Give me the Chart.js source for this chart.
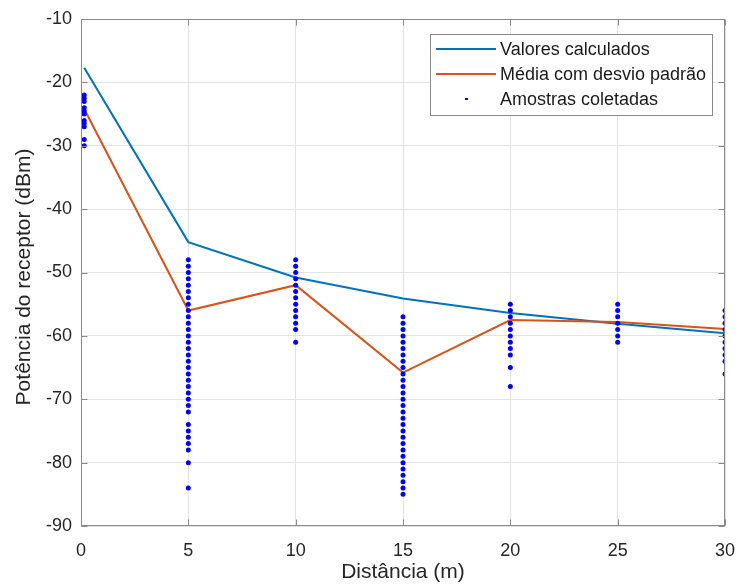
<!DOCTYPE html>
<html>
<head>
<meta charset="utf-8">
<script src="https://cdn.jsdelivr.net/npm/chart.js@4.4.0/dist/chart.umd.min.js"></script>
<style>
  html, body { margin: 0; padding: 0; background: #fff; }
  #wrap { position: relative; width: 737px; height: 587px; }
</style>
</head>
<body>
<div id="wrap"><canvas id="c" width="737" height="587"></canvas></div>
<script>
// ---- data ----
const distances = [0.15, 5, 10, 15, 20, 25, 30];
const calculated = [-17.7, -45.2, -50.8, -54.1, -56.4, -58.1, -59.6];
const meanValues = [-24.2, -56.0, -52.0, -65.8, -57.5, -57.8, -58.9];

const samplesAt0 = [-22, -22.5, -23, -24, -24.5, -25, -26, -26.5, -27, -29, -30];
const samplesAt5 = [-48, -49, -50, -51, -52, -53, -54, -55, -56, -57, -58, -59, -60, -61, -62, -63, -64, -65, -66, -67, -68, -69, -70, -71, -72, -74, -75, -76, -77, -78, -80, -84];
const samplesAt10 = [-48, -49, -50, -51, -52, -53, -54, -55, -56, -57, -58, -59, -61];
const samplesAt15 = [-57, -58, -59, -60, -61, -62, -63, -64, -65, -66, -67, -68, -69, -70, -71, -72, -73, -74, -75, -76, -77, -78, -79, -80, -81, -82, -83, -84, -85];
const samplesAt20 = [-55, -56, -57, -58, -59, -60, -61, -62, -63, -65, -68];
const samplesAt25 = [-55, -56, -57, -58, -59, -60, -61];
const samplesAt30 = [-56, -57, -58, -59, -60, -61, -62, -63, -64, -66];
const sampleGroups = [samplesAt0, samplesAt5, samplesAt10, samplesAt15, samplesAt20, samplesAt25, samplesAt30];

const xTicks = [0, 5, 10, 15, 20, 25, 30];
const yTicks = [-10, -20, -30, -40, -50, -60, -70, -80, -90];

const seriesLabels = ['Valores calculados', 'Média com desvio padrão', 'Amostras coletadas'];
const xTitle = 'Distância (m)';
const yTitle = 'Potência do receptor (dBm)';

// ---- build ----
const lineCalc = distances.map((d, i) => ({ x: d, y: calculated[i] }));
const lineMean = distances.map((d, i) => ({ x: d, y: meanValues[i] }));
const samplePts = [];
sampleGroups.forEach((g, i) => g.forEach(v => samplePts.push({ x: distances[i], y: v })));

const BLUE = '#0072BD', ORANGE = '#D95319', DOT = '#0000FF';
const FONT = '"Liberation Sans", Arial, sans-serif';
const AXIS = '#8a8a8a';
const TXT = '#262626';

const boxPlugin = {
  id: 'boxPlugin',
  afterDatasetsDraw(chart) {
    const { ctx, chartArea: a, scales } = chart;
    ctx.save();
    ctx.strokeStyle = AXIS;
    ctx.lineWidth = 1;
    const L = Math.round(a.left) + 0.5, T = Math.round(a.top) + 0.5;
    const R = Math.round(a.right) - 0.5, B = Math.round(a.bottom) - 0.5;
    ctx.strokeRect(L, T, R - L, B - T);
    // inward tick marks
    ctx.beginPath();
    xTicks.forEach(v => {
      const px = Math.round(scales.x.getPixelForValue(v)) + 0.5;
      ctx.moveTo(px, B); ctx.lineTo(px, B - 6);
      ctx.moveTo(px, T); ctx.lineTo(px, T + 6);
    });
    yTicks.forEach(v => {
      const py = Math.round(scales.y.getPixelForValue(v)) + 0.5;
      ctx.moveTo(L, py); ctx.lineTo(L + 6, py);
      ctx.moveTo(R, py); ctx.lineTo(R - 6, py);
    });
    ctx.stroke();
    // y axis title
    ctx.save();
    ctx.translate(24, 277);
    ctx.rotate(-Math.PI / 2);
    ctx.font = '21px ' + FONT;
    ctx.fillStyle = TXT;
    ctx.textAlign = 'center';
    ctx.textBaseline = 'middle';
    ctx.fillText(yTitle, 0, 0);
    ctx.restore();
    // legend
    const lx = 430, ly = 34, lw = 282, lh = 81;
    ctx.fillStyle = '#fff';
    ctx.fillRect(lx, ly, lw, lh);
    ctx.strokeStyle = AXIS;
    ctx.strokeRect(lx + 0.5, ly + 0.5, lw, lh);
    ctx.font = '18px ' + FONT;
    ctx.textBaseline = 'middle';
    ctx.textAlign = 'left';
    const rows = [49, 74, 99];
    const ds = chart.data.datasets;
    ctx.lineWidth = 2;
    ctx.strokeStyle = ds[0].borderColor;
    ctx.beginPath(); ctx.moveTo(436, rows[0]); ctx.lineTo(496, rows[0]); ctx.stroke();
    ctx.strokeStyle = ds[1].borderColor;
    ctx.beginPath(); ctx.moveTo(436, rows[1]); ctx.lineTo(496, rows[1]); ctx.stroke();
    ctx.fillStyle = DOT;
    ctx.fillRect(465, rows[2] - 1, 3, 2);
    ctx.fillStyle = '#1a1a1a';
    ds.forEach((d, i) => ctx.fillText(d.label, 500, rows[i] + 1));
    ctx.restore();
  }
};

new Chart(document.getElementById('c'), {
  type: 'scatter',
  data: {
    datasets: [
      { label: seriesLabels[0], data: lineCalc, showLine: true, borderColor: BLUE, borderWidth: 2, pointRadius: 0, order: 2 },
      { label: seriesLabels[1], data: lineMean, showLine: true, borderColor: ORANGE, borderWidth: 2, pointRadius: 0, order: 1 },
      { label: seriesLabels[2], data: samplePts, showLine: false, backgroundColor: DOT, borderWidth: 0, pointRadius: 2.5, order: 0 }
    ]
  },
  options: {
    responsive: false,
    animation: false,
    layout: { padding: { left: 0, top: 19, right: 12, bottom: 0 } },
    plugins: { legend: { display: false }, tooltip: { enabled: false } },
    scales: {
      x: {
        type: 'linear', min: 0, max: 30,
        afterBuildTicks: s => { s.ticks = xTicks.map(v => ({ value: v })); },
        afterFit: s => { s.height = 61; s.paddingLeft = 0; s.paddingRight = 0; },
        ticks: { color: TXT, font: { size: 18, family: FONT }, padding: 14, maxRotation: 0, autoSkip: false },
        grid: { color: '#e3e3e3', drawTicks: false },
        border: { display: false },
        title: { display: true, text: xTitle, color: TXT, font: { size: 21, family: FONT }, padding: { top: 0, bottom: 2 } }
      },
      y: {
        type: 'linear', min: -90, max: -10,
        afterBuildTicks: s => { s.ticks = yTicks.map(v => ({ value: v })); },
        afterFit: s => { s.width = 81; s.paddingTop = 0; s.paddingBottom = 0; },
        ticks: { color: TXT, font: { size: 18, family: FONT }, padding: 9, autoSkip: false },
        grid: { color: '#e3e3e3', drawTicks: false },
        border: { display: false },
        title: { display: false }
      }
    }
  },
  plugins: [boxPlugin]
});
</script>
</body>
</html>
